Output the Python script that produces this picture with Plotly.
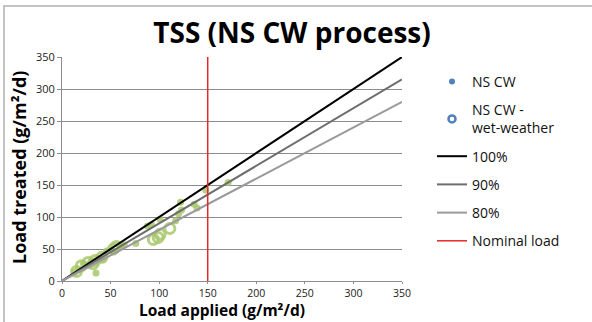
import plotly.graph_objects as go

# Daily loads (g/m²/d): applied vs treated
dry_applied = [13, 17, 22, 25, 30, 35, 42, 46, 53, 61, 64, 76, 88, 92, 101, 117, 120, 123, 122, 136, 139, 148, 171]
dry_treated = [14, 17, 27, 24, 27, 12.5, 34, 47, 47, 55, 56.5, 58.5, 86, 88, 96, 94, 105, 111, 123, 120, 114, 142, 154]

wet_applied = [15, 20, 27, 32, 34, 41, 53, 56, 94, 99, 101, 111]
wet_treated = [15, 24, 29, 27, 32, 37, 50, 54, 65, 68, 73, 82]

# Reference lines: treated = applied x efficiency
ref_x = [0, 350]
eff_100 = [0, 350]
eff_90 = [0, 315]
eff_80 = [0, 280]

# Nominal load
nominal_x = [150, 150]
nominal_y = [0, 350]

green = "rgba(168,200,108,0.85)"
blue = "#4F81BD"

fig = go.Figure()

# Plotted points (green)
fig.add_trace(go.Scatter(x=dry_applied, y=dry_treated, mode="markers",
                         marker=dict(color=green, size=7), showlegend=False))
fig.add_trace(go.Scatter(x=wet_applied, y=wet_treated, mode="markers",
                         marker=dict(symbol="circle-open", color=green, size=10,
                                     line=dict(width=3)), showlegend=False))

# Legend entries for the point series
fig.add_trace(go.Scatter(x=[None], y=[None], mode="markers", name="NS CW",
                         legendgroup="a", marker=dict(color=blue, size=6)))
fig.add_trace(go.Scatter(x=[None], y=[None], mode="markers",
                         name="NS CW -<br>wet-weather", legendgroup="b",
                         marker=dict(symbol="circle-open", color=blue, size=7,
                                     line=dict(width=2.5))))

fig.add_trace(go.Scatter(x=ref_x, y=eff_100, mode="lines", name="100%",
                         legendgroup="c", line=dict(color="#000000", width=2)))
fig.add_trace(go.Scatter(x=ref_x, y=eff_90, mode="lines", name="90%",
                         legendgroup="d", line=dict(color="#6e6e6e", width=2)))
fig.add_trace(go.Scatter(x=ref_x, y=eff_80, mode="lines", name="80%",
                         legendgroup="e", line=dict(color="#9a9a9a", width=2)))
fig.add_trace(go.Scatter(x=nominal_x, y=nominal_y, mode="lines", name="Nominal load",
                         legendgroup="f", line=dict(color="#e8262a", width=1.5)))

L, R, T, B = 62, 190, 57, 41
W, H = 592, 322
pw, ph = W - L - R, H - T - B


def px_x(p):
    return (p - L) / pw


def px_y(p):
    return (H - B - p) / ph


fig.update_layout(
    width=W, height=H,
    margin=dict(l=L, r=R, t=T, b=B, autoexpand=False),
    paper_bgcolor="white", plot_bgcolor="white",
    font=dict(family="Open Sans, sans-serif", size=11, color="#222"),
    title=dict(text="<b>TSS (NS CW process)</b>", x=292 / W,
               xanchor="center", y=1 - 33 / H, yanchor="middle",
               font=dict(size=28, color="#000", family="Open Sans, sans-serif")),
    xaxis=dict(range=[0, 350], dtick=50, showgrid=False, zeroline=False,
               showline=True, linecolor="#8c8c8c", linewidth=1,
               ticks="outside", ticklen=2, tickcolor="#8c8c8c", automargin=False,
               tickfont=dict(size=10.5, color="#222")),
    yaxis=dict(range=[0, 350], dtick=50, showgrid=True, gridcolor="#8c8c8c",
               gridwidth=1, zeroline=False, showline=True, linecolor="#8c8c8c",
               ticks="outside", ticklen=4, tickcolor="#8c8c8c", automargin=False,
               tickfont=dict(size=11, color="#222")),
    legend=dict(x=px_x(432), xanchor="left", y=px_y(66), yanchor="top",
                font=dict(size=14, color="#111"), tracegroupgap=7,
                bgcolor="rgba(0,0,0,0)", itemwidth=30),
    annotations=[
        dict(text="<b>Load applied (g/m²/d)</b>", xref="paper", yref="paper",
             x=px_x(222), y=px_y(322), xanchor="center", yanchor="bottom",
             borderpad=0, showarrow=False, font=dict(size=15.5, color="#000")),
        dict(text="<b>Load treated (g/m²/d)</b>", xref="paper", yref="paper",
             x=px_x(19), y=px_y(168), xanchor="center", yanchor="middle",
             borderpad=0, textangle=-90, showarrow=False,
             font=dict(size=18, color="#000")),
    ],
    shapes=[dict(type="rect", xref="paper", yref="paper",
                 x0=px_x(4), x1=px_x(W + 10),
                 y0=px_y(H + 10), y1=px_y(6),
                 line=dict(color="#b0b0b0", width=1.5), layer="below")],
)

fig.write_html("out.html")
